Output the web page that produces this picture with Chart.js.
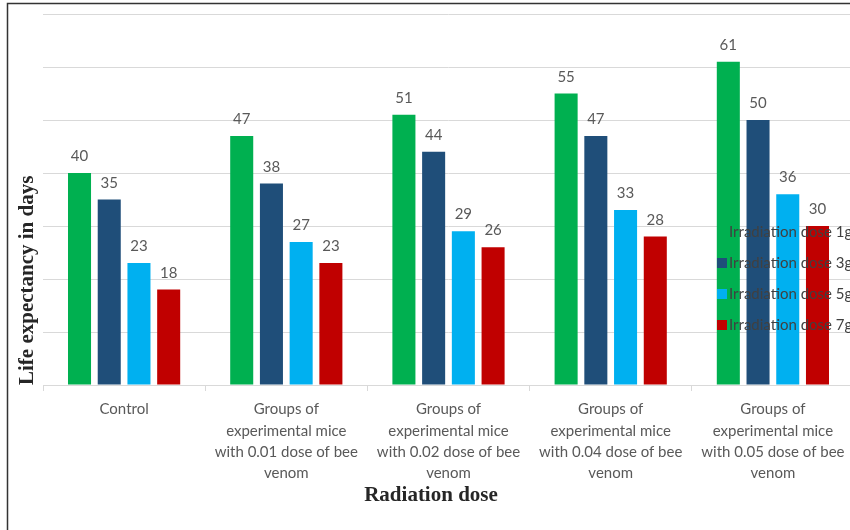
<!DOCTYPE html>
<html>
<head>
<meta charset="utf-8">
<script src="https://cdn.jsdelivr.net/npm/chart.js@4.4.1/dist/chart.umd.min.js"></script>
<style>
  html, body { margin: 0; padding: 0; background: #fff; overflow: hidden; width: 850px; height: 530px; }
  canvas { display: block; }
</style>
</head>
<body>
<canvas id="chart" width="854" height="530"></canvas>
<script>
// Groups on the x axis (multi-line labels)
const categories = [
  'Control',
  ['Groups of', 'experimental mice', 'with 0.01 dose of bee', 'venom'],
  ['Groups of', 'experimental mice', 'with 0.02 dose of bee', 'venom'],
  ['Groups of', 'experimental mice', 'with 0.04 dose of bee', 'venom'],
  ['Groups of', 'experimental mice', 'with 0.05 dose of bee', 'venom']
];

// Life expectancy (days) for each irradiation dose
const seriesNames = ['Irradiation dose 1g', 'Irradiation dose 3g', 'Irradiation dose 5g', 'Irradiation dose 7g'];
const dose1g = [40, 47, 51, 55, 61];
const dose3g = [35, 38, 44, 47, 50];
const dose5g = [23, 27, 29, 33, 36];
const dose7g = [18, 23, 26, 28, 30];
const seriesColors = ['#00b050', '#1f4e79', '#00b0f0', '#c00000'];

const yTicks = { min: 0, max: 70, step: 10 };

const labelFont = 'Lato';
const titleFont = 'Liberation Serif';

// White page with a dark frame on the left and top edges
const framePlugin = {
  id: 'frame',
  beforeDraw(chart) {
    const ctx = chart.ctx;
    ctx.save();
    ctx.fillStyle = '#fff';
    ctx.fillRect(0, 0, chart.width, chart.height);
    ctx.strokeStyle = '#333';
    ctx.lineWidth = 1.5;
    ctx.beginPath();
    ctx.moveTo(7.5, chart.height + 2);
    ctx.lineTo(7.5, 3.5);
    ctx.lineTo(chart.width + 2, 3.5);
    ctx.stroke();
    ctx.restore();
  }
};

// Value labels above each bar
const valueLabels = {
  id: 'valueLabels',
  afterDatasetsDraw(chart) {
    const ctx = chart.ctx;
    ctx.save();
    ctx.font = '15px ' + labelFont;
    ctx.fillStyle = '#595959';
    ctx.textAlign = 'center';
    ctx.textBaseline = 'alphabetic';
    chart.data.datasets.forEach((ds, i) => {
      chart.getDatasetMeta(i).data.forEach((bar, j) => {
        ctx.fillText(String(ds.data[j]), bar.x, bar.y - 12);
      });
    });
    ctx.restore();
  }
};

// Legend drawn inside the plot, over the bars
const overlayLegend = {
  id: 'overlayLegend',
  afterDatasetsDraw(chart) {
    const ctx = chart.ctx;
    const area = chart.chartArea;
    const x0 = area.right - 137;
    const y0 = 232;
    const gap = 31;
    ctx.save();
    ctx.font = '15px ' + labelFont;
    ctx.textBaseline = 'middle';
    ctx.textAlign = 'left';
    chart.data.datasets.forEach((ds, i) => {
      const y = y0 + i * gap;
      ctx.fillStyle = ds.backgroundColor;
      ctx.fillRect(x0, y - 5, 10, 10);
      ctx.fillStyle = '#404040';
      ctx.fillText(ds.label, x0 + 12, y);
    });
    ctx.restore();
  }
};

// Horizontal axis title
const xTitle = {
  id: 'xTitle',
  afterDraw(chart) {
    const ctx = chart.ctx;
    ctx.save();
    ctx.font = 'bold 21px "' + titleFont + '"';
    ctx.fillStyle = '#262626';
    ctx.textAlign = 'center';
    ctx.textBaseline = 'middle';
    ctx.fillText('Radiation dose', 431, 496);
    ctx.restore();
  }
};

const datasets = [dose1g, dose3g, dose5g, dose7g].map((values, i) => ({
  label: seriesNames[i],
  data: values,
  backgroundColor: seriesColors[i],
  borderWidth: 0,
  categoryPercentage: 0.733,
  barPercentage: 0.775
}));

new Chart(document.getElementById('chart'), {
  type: 'bar',
  data: { labels: categories, datasets },
  options: {
    responsive: false,
    animation: false,
    devicePixelRatio: 1,
    layout: { padding: { left: 8, top: 14, right: 0, bottom: 0 } },
    plugins: {
      legend: { display: false },
      tooltip: { enabled: false }
    },
    scales: {
      x: {
        afterFit(scale) { scale.height = 145; },
        grid: {
          offset: true,
          drawOnChartArea: false,
          drawTicks: true,
          tickLength: 6,
          color: '#d9d9d9'
        },
        border: { display: true, color: '#d9d9d9' },
        ticks: {
          color: '#595959',
          font: { family: labelFont, size: 15, lineHeight: 1.42 },
          padding: 8,
          maxRotation: 0,
          autoSkip: false
        }
      },
      y: {
        min: yTicks.min,
        max: yTicks.max,
        afterFit(scale) { scale.width = 35; },
        ticks: { display: false, stepSize: yTicks.step },
        grid: { color: '#d9d9d9', drawTicks: false },
        border: { display: false },
        title: {
          display: true,
          text: 'Life expectancy in days',
          align: 'start',
          color: '#262626',
          font: { family: titleFont, size: 21, weight: 'bold' },
          padding: { top: 7, bottom: 0 }
        }
      }
    }
  },
  plugins: [framePlugin, valueLabels, overlayLegend, xTitle]
});
</script>
</body>
</html>
